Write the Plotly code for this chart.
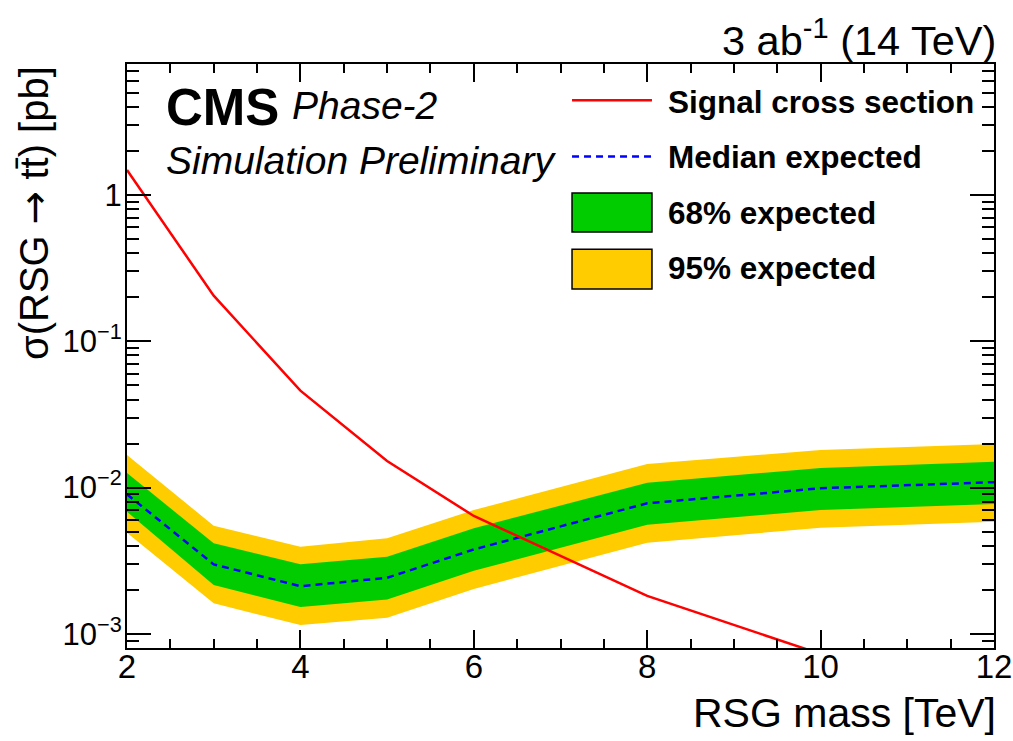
import plotly.graph_objects as go

mass = [2, 3, 4, 5, 6, 8, 10, 12]
signal_xsec = [1.48, 0.205, 0.046, 0.0152, 0.0064, 0.00182, 0.00073, 0.00033]
median_exp = [9.0e-3, 2.99e-3, 2.12e-3, 2.42e-3, 3.78e-3, 7.82e-3, 9.9e-3, 1.09e-2]
band68_up = [1.26e-2, 4.16e-3, 2.99e-3, 3.37e-3, 5.27e-3, 1.08e-2, 1.36e-2, 1.50e-2]
band68_dn = [6.85e-3, 2.16e-3, 1.53e-3, 1.72e-3, 2.70e-3, 5.58e-3, 7.03e-3, 7.73e-3]
band95_up = [1.67e-2, 5.49e-3, 3.95e-3, 4.50e-3, 7.03e-3, 1.45e-2, 1.81e-2, 1.99e-2]
band95_dn = [4.92e-3, 1.62e-3, 1.15e-3, 1.29e-3, 2.03e-3, 4.20e-3, 5.32e-3, 5.85e-3]

y_major = [1e-3, 1e-2, 1e-1, 1]
y_major_text = ["10<sup>\u22123</sup>", "10<sup>\u22122</sup>", "10<sup>\u22121</sup>", "1"]
y_minor = [m * 10.0 ** e for e in (-4, -3, -2, -1, 0) for m in range(2, 10)]

legend_labels = ["Signal cross section", "Median expected", "68% expected", "95% expected"]

YELLOW = "#FFCC00"
GREEN = "#00CC00"
FONT = "Liberation Sans, Arial, Helvetica, sans-serif"

fig = go.Figure()
fig.add_trace(go.Scatter(x=mass, y=band95_dn, mode="lines", line=dict(width=0, color=YELLOW),
                         showlegend=False, hoverinfo="skip"))
fig.add_trace(go.Scatter(x=mass, y=band95_up, mode="lines", line=dict(width=0, color=YELLOW),
                         fill="tonexty", fillcolor=YELLOW, showlegend=False, hoverinfo="skip"))
fig.add_trace(go.Scatter(x=mass, y=band68_dn, mode="lines", line=dict(width=0, color=GREEN),
                         showlegend=False, hoverinfo="skip"))
fig.add_trace(go.Scatter(x=mass, y=band68_up, mode="lines", line=dict(width=0, color=GREEN),
                         fill="tonexty", fillcolor=GREEN, showlegend=False, hoverinfo="skip"))
fig.add_trace(go.Scatter(x=mass, y=median_exp, mode="lines",
                         line=dict(color="#0000FF", width=2.5, dash="7px,5px"), showlegend=False))
fig.add_trace(go.Scatter(x=mass, y=signal_xsec, mode="lines",
                         line=dict(color="#FF0000", width=2.5), showlegend=False))

# manual ROOT-style legend
lx0, lx1 = 0.5133, 0.6055
fig.add_shape(type="line", xref="paper", yref="paper", x0=lx0, x1=lx1, y0=0.938, y1=0.938,
              line=dict(color="#FF0000", width=2.5))
fig.add_shape(type="line", xref="paper", yref="paper", x0=lx0, x1=lx1, y0=0.8415, y1=0.8415,
              line=dict(color="#0000FF", width=2.5, dash="7px,5px"))
fig.add_shape(type="rect", xref="paper", yref="paper", x0=lx0, x1=lx1, y0=0.7123, y1=0.7791,
              fillcolor=GREEN, line=dict(color="black", width=1.5))
fig.add_shape(type="rect", xref="paper", yref="paper", x0=lx0, x1=lx1, y0=0.6147, y1=0.6827,
              fillcolor=YELLOW, line=dict(color="black", width=1.5))
for lab, yy in zip(legend_labels, [0.9349, 0.8408, 0.7449, 0.6507]):
    fig.add_annotation(text="<b>%s</b>" % lab, xref="paper", yref="paper", x=0.6215, y=yy,
                       xanchor="left", yanchor="middle", showarrow=False,
                       font=dict(family=FONT, size=31.5, color="black"))

# CMS labels
fig.add_annotation(text="<b>CMS</b>", xref="paper", yref="paper", x=(164 - 127) / 867, y=(648 - 108) / 584,
                   xanchor="left", yanchor="middle", showarrow=False,
                   font=dict(family=FONT, size=51, color="black"))
fig.add_annotation(text="<i>Phase-2</i>", xref="paper", yref="paper", x=(290 - 127) / 867, y=(648 - 106) / 584,
                   xanchor="left", yanchor="middle", showarrow=False,
                   font=dict(family=FONT, size=39, color="black"))
fig.add_annotation(text="<i>Simulation Preliminary</i>", xref="paper", yref="paper", x=(164 - 127) / 867,
                   y=(648 - 160) / 584, xanchor="left", yanchor="middle", showarrow=False,
                   font=dict(family=FONT, size=39, color="black"))
# lumi
fig.add_annotation(text="3 ab<sup>-1</sup> (14 TeV)", xref="paper", yref="paper", x=(998 - 127) / 867,
                   y=(648 - 38) / 584, xanchor="right", yanchor="middle", showarrow=False,
                   font=dict(family=FONT, size=41.5, color="black"))
# axis titles
fig.add_annotation(text="RSG mass [TeV]", xref="paper", yref="paper", x=(998 - 127) / 867,
                   y=-(713 - 648) / 584, xanchor="right", yanchor="middle", showarrow=False,
                   font=dict(family=FONT, size=41, color="black"))
fig.add_annotation(text="\u03c3(RSG <span style=\"font-family:DejaVu Sans\">\u2192</span> tt\u0304) [pb]",
                   xref="paper", yref="paper", x=-(127 - 34) / 867,
                   y=1.0, xanchor="center", yanchor="top", textangle=-90, showarrow=False,
                   font=dict(family=FONT, size=40, color="black"))

fig.update_xaxes(range=[2, 12], tickmode="array", tickvals=[2, 4, 6, 8, 10, 12],
                 ticks="inside", ticklen=18, tickwidth=2, tickcolor="black",
                 showline=True, linecolor="black", linewidth=2, mirror="ticks",
                 showgrid=False, zeroline=False, automargin=False, ticklabelstandoff=-12,
                 tickfont=dict(family=FONT, size=33, color="black"),
                 minor=dict(tickmode="linear", dtick=0.5, ticks="inside", ticklen=9,
                            tickwidth=2, tickcolor="black", showgrid=False))
fig.update_yaxes(type="log", range=[-3.096, 0.895], tickmode="array", tickvals=y_major,
                 ticktext=y_major_text, ticks="inside", ticklen=24, tickwidth=2, tickcolor="black",
                 showline=True, linecolor="black", linewidth=2, mirror="ticks",
                 showgrid=False, zeroline=False, automargin=False, ticklabelstandoff=-3,
                 tickfont=dict(family=FONT, size=31, color="black"),
                 minor=dict(tickmode="array", tickvals=y_minor, ticks="inside", ticklen=12,
                            tickwidth=2, tickcolor="black", showgrid=False))

fig.update_layout(width=1013, height=741, margin=dict(l=127, r=19, t=64, b=93),
                  paper_bgcolor="white", plot_bgcolor="white", showlegend=False,
                  font=dict(family=FONT, color="black"))

fig.write_html("out.html")
